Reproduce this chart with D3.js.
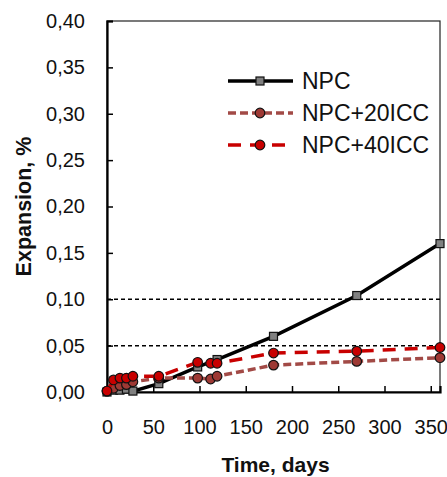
<!DOCTYPE html>
<html>
<head>
<meta charset="utf-8">
<script src="https://cdn.jsdelivr.net/npm/d3@7"></script>
<style>
  html, body { margin: 0; padding: 0; background: #fff; }
  svg { display: block; font-family: "Liberation Sans", Arial, sans-serif; }
</style>
</head>
<body>
<svg id="chart" width="447" height="477"></svg>
<script>
// Expansion (%) over time (days)
const npcDays   = [0, 7, 14, 21, 28, 56, 98, 119, 180, 270, 360];
const npcValues = [0.000, 0.002, 0.002, 0.003, 0.001, 0.009, 0.027, 0.035, 0.060, 0.104, 0.160];

const iccDays      = [0, 7, 14, 21, 28, 56, 98, 112, 119, 180, 270, 360];
const icc20Values  = [0.001, 0.004, 0.007, 0.008, 0.011, 0.015, 0.015, 0.014, 0.017, 0.029, 0.033, 0.037];
const icc40Values  = [0.001, 0.013, 0.015, 0.015, 0.017, 0.017, 0.032, 0.031, 0.031, 0.042, 0.044, 0.048];

const xTicks = [0, 50, 100, 150, 200, 250, 300, 350];
const yTicks = [0, 0.05, 0.10, 0.15, 0.20, 0.25, 0.30, 0.35, 0.40];
const refLines = [0.05, 0.10];

const seriesNames = ["NPC", "NPC+20ICC", "NPC+40ICC"];

const svg = d3.select("#chart");
const plotLeft = 107, plotRight = 440, plotTop = 21, plotBottom = 392;

const x = d3.scaleLinear().domain([0, 360]).range([plotLeft, plotRight]);
const y = d3.scaleLinear().domain([0, 0.40]).range([plotBottom, plotTop]);
const fmt = v => d3.format(".2f")(v).replace(".", ",");

// frame (top/right thin)
svg.append("rect")
  .attr("x", plotLeft).attr("y", plotTop)
  .attr("width", plotRight - plotLeft).attr("height", plotBottom - plotTop)
  .attr("fill", "none").attr("stroke", "#222").attr("stroke-width", 1.2);

// dashed reference lines
svg.selectAll("line.ref").data(refLines).join("line")
  .attr("class", "ref")
  .attr("x1", plotLeft).attr("x2", plotRight)
  .attr("y1", d => y(d)).attr("y2", d => y(d))
  .attr("stroke", "#000").attr("stroke-width", 1.5)
  .attr("stroke-dasharray", "4,3");

// axes with inward ticks
const yAxis = d3.axisLeft(y).tickValues(yTicks).tickSize(-6).tickPadding(22).tickFormat(fmt);
const gy = svg.append("g").attr("transform", `translate(${plotLeft},0)`).call(yAxis);
gy.select(".domain").attr("stroke", "#000").attr("stroke-width", 2.2);
gy.selectAll(".tick line").attr("stroke", "#000").attr("stroke-width", 1.5);
gy.selectAll(".tick text").attr("font-size", 20).attr("fill", "#111")
  .attr("font-family", "Liberation Sans, Arial, sans-serif");

const xAxis = d3.axisBottom(x).tickValues(xTicks).tickSize(-6).tickPadding(28).tickFormat(d3.format("d"));
const gx = svg.append("g").attr("transform", `translate(0,${plotBottom})`).call(xAxis);
gx.select(".domain").attr("stroke", "#000").attr("stroke-width", 2.2);
gx.selectAll(".tick line").attr("stroke", "#000").attr("stroke-width", 1.5);
gx.selectAll(".tick text").attr("font-size", 20).attr("fill", "#111")
  .attr("font-family", "Liberation Sans, Arial, sans-serif");

// axis titles
svg.append("text")
  .attr("x", (plotLeft + plotRight) / 2 + 2).attr("y", 472)
  .attr("text-anchor", "middle").attr("font-weight", "bold").attr("font-size", 21)
  .attr("fill", "#111").text("Time, days");
svg.append("text")
  .attr("transform", `translate(31,${(plotTop + plotBottom) / 2}) rotate(-90)`)
  .attr("text-anchor", "middle").attr("font-weight", "bold").attr("font-size", 21.5)
  .attr("fill", "#111").text("Expansion, %");

const line = d3.line().x(d => x(d[0])).y(d => y(d[1]));

const series = [
  { name: seriesNames[0], pts: d3.zip(npcDays, npcValues), stroke: "#000", dash: null, marker: "square", fill: "#808080" },
  { name: seriesNames[1], pts: d3.zip(iccDays, icc20Values), stroke: "#a24a46", dash: "8,4", marker: "circle", fill: "#9e3934" },
  { name: seriesNames[2], pts: d3.zip(iccDays, icc40Values), stroke: "#c80000", dash: "13,9", marker: "circle", fill: "#c80000" }
];

function drawMarker(g, s, cx, cy) {
  if (s.marker === "square") {
    g.append("rect").attr("x", cx - 4).attr("y", cy - 4).attr("width", 8).attr("height", 8)
      .attr("fill", s.fill).attr("stroke", "#111").attr("stroke-width", 1.2);
  } else {
    g.append("circle").attr("cx", cx).attr("cy", cy).attr("r", 4.8)
      .attr("fill", s.fill).attr("stroke", "#111").attr("stroke-width", 1.2);
  }
}

series.forEach(s => {
  const g = svg.append("g");
  g.append("path").datum(s.pts).attr("d", line)
    .attr("fill", "none").attr("stroke", s.stroke).attr("stroke-width", 3.5)
    .attr("stroke-dasharray", s.dash);
  s.pts.forEach(p => drawMarker(g, s, x(p[0]), y(p[1])));
});

// legend
const legendY = [81, 113, 145];
series.forEach((s, i) => {
  const g = svg.append("g");
  g.append("line").attr("x1", 228).attr("x2", 293)
    .attr("y1", legendY[i]).attr("y2", legendY[i])
    .attr("stroke", s.stroke).attr("stroke-width", 3.5).attr("stroke-dasharray", s.dash);
  drawMarker(g, s, 260, legendY[i]);
  g.append("text").attr("x", 302).attr("y", legendY[i] + 8)
    .attr("font-size", 23).attr("fill", "#111").text(s.name);
});
</script>
</body>
</html>
